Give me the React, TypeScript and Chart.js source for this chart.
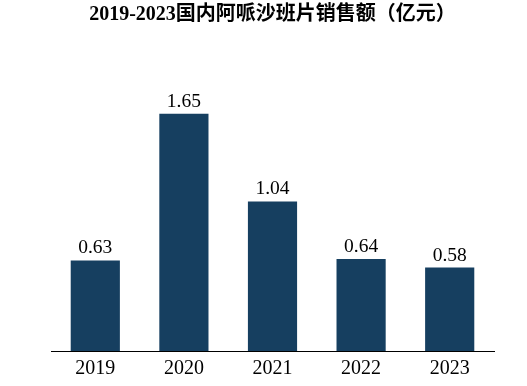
import React, { useEffect, useRef } from "react";
import { Chart, registerables } from "chart.js";

Chart.register(...registerables);

const categories = ["2019", "2020", "2021", "2022", "2023"];
const sales = [0.63, 1.65, 1.04, 0.64, 0.58];
const titleText = "2019-2023国内阿哌沙班片销售额（亿元）";

const labelPlugin = {
  id: "barLabels",
  afterDatasetsDraw(chart: any) {
    const ctx = chart.ctx;
    const meta = chart.getDatasetMeta(0);
    ctx.save();
    ctx.fillStyle = "#000";
    ctx.font = '19.5px "Liberation Serif", "Times New Roman", serif';
    ctx.textAlign = "center";
    ctx.textBaseline = "alphabetic";
    meta.data.forEach((bar: any, i: number) => {
      ctx.fillText(sales[i].toFixed(2), bar.x, bar.y - 7);
    });
    ctx.restore();
  },
};

export default function App() {
  const ref = useRef<HTMLCanvasElement>(null);
  useEffect(() => {
    if (!ref.current) return;
    const chart = new Chart(ref.current, {
      type: "bar",
      data: {
        labels: categories,
        datasets: [
          {
            data: sales,
            backgroundColor: "#163f60",
            categoryPercentage: 1,
            barPercentage: 0.555,
          },
        ],
      },
      options: {
        responsive: false,
        animation: false,
        layout: { padding: { left: 51, right: 33, top: 0, bottom: 7 } },
        plugins: {
          legend: { display: false },
          tooltip: { enabled: false },
          title: {
            display: true,
            text: titleText,
            color: "#000",
            font: {
              size: 20,
              weight: "bold",
              family: '"Liberation Serif", "Noto Sans CJK SC", serif',
            },
            padding: { top: 3, bottom: 22 },
          },
        },
        scales: {
          x: {
            grid: { display: false },
            border: { display: true, color: "#000", width: 1 },
            ticks: {
              color: "#000",
              padding: -2,
              font: { size: 20, family: '"Liberation Serif", "Times New Roman", serif' },
            },
          },
          y: {
            display: false,
            min: 0,
            max: 2.1,
          },
        },
      },
      plugins: [labelPlugin],
    });
    return () => chart.destroy();
  }, []);
  return (
    <div style={{ position: "absolute", left: 0, top: 0, width: 527, height: 386, background: "#fff" }}>
      <canvas ref={ref} width={527} height={386} />
    </div>
  );
}
